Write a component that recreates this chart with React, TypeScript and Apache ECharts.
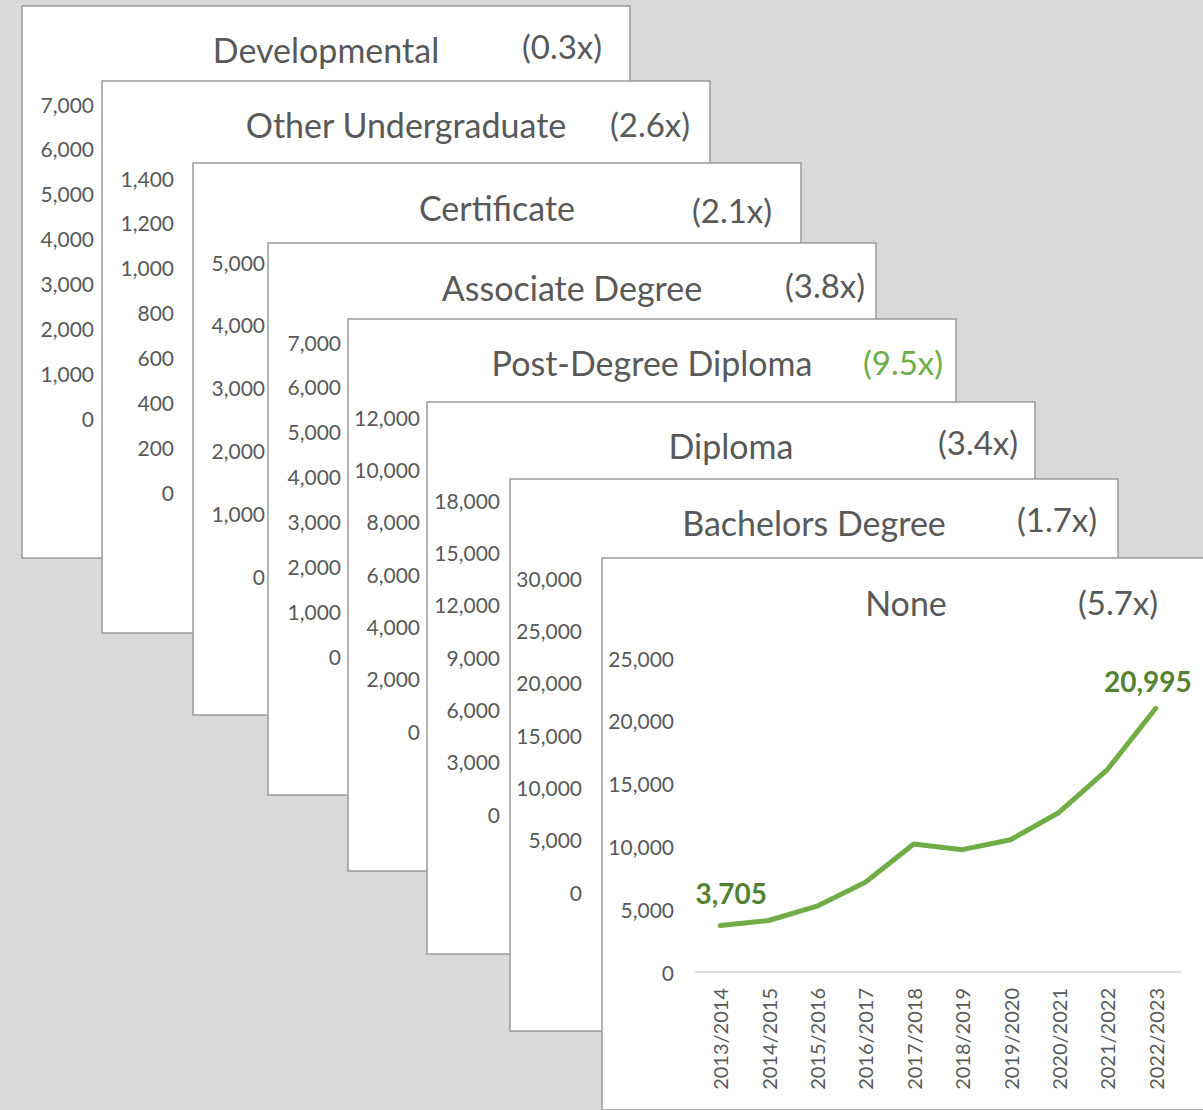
import React, { useEffect, useRef } from "react";
import * as echarts from "echarts";

const categories = ["2013/2014", "2014/2015", "2015/2016", "2016/2017", "2017/2018", "2018/2019", "2019/2020", "2020/2021", "2021/2022", "2022/2023"];
const noneValues = [3705, 4100, 5240, 7140, 10190, 9740, 10530, 12700, 16120, 20995];

const cardTitles = ["Developmental", "Other Undergraduate", "Certificate", "Associate Degree", "Post-Degree Diploma", "Diploma", "Bachelors Degree", "None"];
const cardMultipliers = ["(0.3x)", "(2.6x)", "(2.1x)", "(3.8x)", "(9.5x)", "(3.4x)", "(1.7x)", "(5.7x)"];
const axisMax = [7000, 1400, 5000, 7000, 12000, 18000, 30000, 25000];
const axisInterval = [1000, 200, 1000, 1000, 2000, 3000, 5000, 5000];

// layout (positions only)
const cardLeft = [22, 102, 193, 268, 348, 427, 510, 602];
const cardTop = [6, 81, 163, 243, 319, 402, 479, 558];
const labelRight = [94, 174, 265, 341, 420, 500, 582, 674];
const axisTopY = [104, 178, 262, 342, 417, 500, 578, 658];
const multX = [562, 650, 732, 825, 903, 978, 1057, 1118];
const multY = [46, 124, 210, 285, 362, 442, 519, 602];
const titleY = [49, 124, 207, 287, 362, 445, 522, 602];

const GRAY = "#595959";
const GREEN = "#70ad47";
const DARKGREEN = "#548235";
const FONT = "Lato, 'Liberation Sans', sans-serif";

export default function App() {
  const ref = useRef<HTMLDivElement>(null);
  useEffect(() => {
    document.body.style.margin = "0";
    const chart = echarts.init(ref.current!, undefined, { renderer: "svg" });
    const graphics: any[] = [];
    const grids: any[] = [];
    const xAxes: any[] = [];
    const yAxes: any[] = [];
    for (let i = 0; i < 8; i++) {
      graphics.push({
        type: "rect",
        z: 1 + i * 2,
        shape: { x: cardLeft[i], y: cardTop[i], width: 608, height: 552 },
        style: { fill: "#ffffff", stroke: "#9a9a9a", lineWidth: 1.5 },
      });
      graphics.push({
        type: "text",
        z: 2 + i * 2,
        x: cardLeft[i] + 304,
        y: titleY[i],
        style: { text: cardTitles[i], fill: GRAY, font: `34px ${FONT}`, textAlign: "center", textVerticalAlign: "middle" },
      });
      graphics.push({
        type: "text",
        z: 2 + i * 2,
        x: multX[i],
        y: multY[i],
        style: { text: cardMultipliers[i], fill: i === 4 ? GREEN : GRAY, font: `33px ${FONT}`, textAlign: "center", textVerticalAlign: "middle" },
      });
      const isLast = i === 7;
      const left = isLast ? 696 : labelRight[i] + 8;
      grids.push({ left, top: axisTopY[i], width: isLast ? 484 : 300, height: 314, containLabel: false });
      xAxes.push({
        type: "category",
        gridIndex: i,
        data: categories,
        show: isLast,
        boundaryGap: true,
        z: 30,
        axisLine: { show: true, lineStyle: { color: "#d9d9d9", width: 2 } },
        axisTick: { show: false },
        axisLabel: { rotate: 90, color: GRAY, fontSize: 20, fontFamily: FONT, margin: 16, interval: 0 },
      });
      yAxes.push({
        type: "value",
        gridIndex: i,
        min: 0,
        max: axisMax[i],
        interval: axisInterval[i],
        z: 30,
        axisLine: { show: false },
        axisTick: { show: false },
        splitLine: { show: false },
        axisLabel: {
          color: GRAY,
          fontSize: 21,
          fontFamily: FONT,
          margin: isLast ? 22 : 8,
          formatter: (v: number) => v.toLocaleString("en-US"),
        },
      });
    }
    const lastIdx = noneValues.length - 1;
    chart.setOption({
      animation: false,
      backgroundColor: "#d9d9d9",
      graphic: { elements: graphics },
      grid: grids,
      xAxis: xAxes,
      yAxis: yAxes,
      series: [
        {
          type: "line",
          xAxisIndex: 7,
          yAxisIndex: 7,
          z: 40,
          data: noneValues.map((v, idx) => {
            if (idx === 0) {
              return { value: v, label: { offset: [11, -12] } };
            }
            if (idx === lastIdx) {
              return { value: v, label: { offset: [-8, -7] } };
            }
            return v;
          }),
          showSymbol: true,
          symbol: "circle",
          symbolSize: 2,
          lineStyle: { color: GREEN, width: 5, cap: "round", join: "round" },
          itemStyle: { color: GREEN },
          label: {
            show: true,
            position: "top",
            color: DARKGREEN,
            fontWeight: "bold",
            fontSize: 28,
            fontFamily: FONT,
            formatter: (p: any) =>
              p.dataIndex === 0 || p.dataIndex === lastIdx ? Number(p.value).toLocaleString("en-US") : "",
          },
        },
      ],
    });
    return () => chart.dispose();
  }, []);
  return <div ref={ref} style={{ width: 1203, height: 1110 }} />;
}
